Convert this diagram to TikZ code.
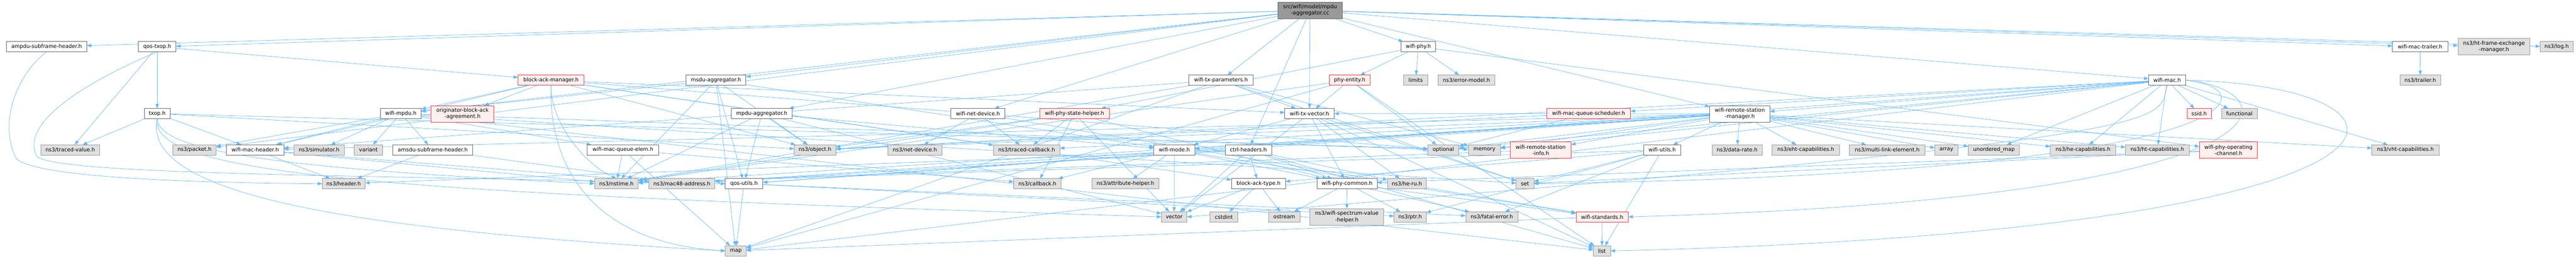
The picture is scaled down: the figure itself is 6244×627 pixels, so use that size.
\documentclass[tikz,border=0pt]{standalone}
\usepackage{fontspec}
\newfontfamily\dfont{DejaVu Sans}
\usetikzlibrary{arrows.meta,backgrounds}
\definecolor{cedge}{HTML}{63B8FF}
\definecolor{cgb}{HTML}{999999}
\definecolor{cdark}{HTML}{666666}
\definecolor{csys}{HTML}{E0E0E0}
\definecolor{credb}{HTML}{FF3333}
\definecolor{credf}{HTML}{FFF0F0}
\newcommand\edgesfrom[2]{\foreach \t in {#2}{\draw[edge] (#1) -- (\t);}}
\tikzset{
  base/.style={rectangle, inner sep=0pt, outer sep=0pt, minimum height=25pt, line width=1pt, align=center,
    font={\dfont\fontsize{12.8}{15.2}\selectfont}},
  nwhite/.style={base, draw=cdark, fill=white},
  nsys/.style={base, draw=cgb, fill=csys},
  nred/.style={base, draw=credb, fill=credf},
  ntop/.style={base, draw=cdark, fill=cgb},
  tall/.style={minimum height=40pt},
  edge/.style={draw=cedge, line width=0.9pt, -{Triangle[length=11pt,width=8pt]}},
}
\begin{document}
\begin{tikzpicture}[x=1pt,y=-1pt]
\useasboundingbox (0,0) rectangle (6244,627);
% row 0
\node[ntop,tall,minimum width=155pt] (top) at (3175.5,25) {src/wifi/model/mpdu\\-aggregator.cc};
% row 1
\node[nwhite,minimum width=195pt] (ampdu) at (113,113.5) {ampdu-subframe-header.h};
\node[nwhite,minimum width=91pt] (qostxop) at (381,113.5) {qos-txop.h};
\node[nwhite,minimum width=84pt] (wphy) at (3438,113.5) {wifi-phy.h};
\node[nwhite,minimum width=134pt] (mtrailer) at (5866,113.5) {wifi-mac-trailer.h};
\node[nsys,tall,minimum width=174pt] (htfem) at (6045,113) {ns3/ht-frame-exchange\\-manager.h};
\node[nsys,minimum width=80pt] (log) at (6197,113.5) {ns3/log.h};
% row 2
\node[nred,minimum width=159pt] (bam) at (1335.5,194.5) {block-ack-manager.h};
\node[nwhite,minimum width=145pt] (msdu) at (1735.5,194.5) {msdu-aggregator.h};
\node[nwhite,minimum width=155pt] (txparams) at (2959.5,194.5) {wifi-tx-parameters.h};
\node[nred,minimum width=99pt] (phyent) at (3271.5,194.5) {phy-entity.h};
\node[nsys,minimum width=59pt] (limits) at (3431.5,194.5) {limits};
\node[nsys,minimum width=137pt] (errmodel) at (3554.5,194.5) {ns3/error-model.h};
\node[nwhite,minimum width=90pt] (wmac) at (5253,194.5) {wifi-mac.h};
\node[nsys,minimum width=99pt] (trailer) at (5866.5,194.5) {ns3/trailer.h};
% row 3
\node[nwhite,minimum width=62pt] (txop) at (381,275.5) {txop.h};
\node[nwhite,minimum width=99pt] (mpdu) at (971.5,275.5) {wifi-mpdu.h};
\node[nred,tall,minimum width=152pt] (oba) at (1121,276) {originator-block-ack\\-agreement.h};
\node[nwhite,minimum width=147pt] (mpduagg) at (1846.5,275.5) {mpdu-aggregator.h};
\node[nwhite,minimum width=131pt] (wnetdev) at (2370.5,275.5) {wifi-net-device.h};
\node[nred,minimum width=169pt] (psh) at (2604.5,275.5) {wifi-phy-state-helper.h};
\node[nwhite,minimum width=120pt] (txvec) at (3174,275.5) {wifi-tx-vector.h};
\node[nred,minimum width=203pt] (mqs) at (3850.5,275.5) {wifi-mac-queue-scheduler.h};
\node[nwhite,tall,minimum width=146pt] (rsm) at (4217,276) {wifi-remote-station\\-manager.h};
\node[nred,minimum width=59pt] (ssid) at (5330.5,275.5) {ssid.h};
\node[nsys,minimum width=86pt] (functional) at (5428,275.5) {functional};
% row 4
\node[nsys,minimum width=142pt] (tval) at (170.4,363.5) {ns3/traced-value.h};
\node[nsys,minimum width=105pt] (packet) at (471.5,363.5) {ns3/packet.h};
\node[nwhite,minimum width=139pt] (mhdr) at (618.5,363.5) {wifi-mac-header.h};
\node[nsys,minimum width=123pt] (simulator) at (773.5,363.5) {ns3/simulator.h};
\node[nsys,minimum width=68pt] (variant) at (893,363.5) {variant};
\node[nwhite,minimum width=194pt] (amsdu) at (1049,363.5) {amsdu-subframe-header.h};
\node[nwhite,minimum width=174pt] (mqe) at (1510,363.5) {wifi-mac-queue-elem.h};
\node[nsys,minimum width=101pt] (object) at (1975.5,363.5) {ns3/object.h};
\node[nsys,minimum width=131pt] (netdev) at (2217.5,363.5) {ns3/net-device.h};
\node[nsys,minimum width=161pt] (tcb) at (2488.5,363.5) {ns3/traced-callback.h};
\node[nwhite,minimum width=99pt] (wmode) at (2846.5,363.5) {wifi-mode.h};
\node[nwhite,minimum width=112pt] (ctrl) at (3026,363.5) {ctrl-headers.h};
\node[nsys,minimum width=75pt] (optional) at (3498.5,363.5) {optional};
\node[nsys,minimum width=78pt] (memory) at (3598,363.5) {memory};
\node[nred,tall,minimum width=147pt] (rsi) at (3734.5,364) {wifi-remote-station\\-info.h};
\node[nwhite,minimum width=90pt] (utils) at (4029,363.5) {wifi-utils.h};
\node[nsys,minimum width=121pt] (drate) at (4210.5,363.5) {ns3/data-rate.h};
\node[nsys,minimum width=164pt] (eht) at (4377,363.5) {ns3/eht-capabilities.h};
\node[nsys,minimum width=183pt] (mle) at (4574.5,363.5) {ns3/multi-link-element.h};
\node[nsys,minimum width=56pt] (array) at (4718,363.5) {array};
\node[nsys,minimum width=124pt] (umap) at (4833,363.5) {unordered\_map};
\node[nsys,minimum width=158pt] (hecap) at (5049,363.5) {ns3/he-capabilities.h};
\node[nsys,minimum width=154pt] (htcap) at (5229,363.5) {ns3/ht-capabilities.h};
\node[nred,tall,minimum width=141pt] (poc) at (5401.5,364) {wifi-phy-operating\\-channel.h};
\node[nsys,minimum width=163pt] (vht) at (5830.5,363.5) {ns3/vht-capabilities.h};
% row 5
\node[nsys,minimum width=104pt] (header) at (833,445.5) {ns3/header.h};
\node[nsys,minimum width=106pt] (nstime) at (1494,445.5) {ns3/nstime.h};
\node[nsys,minimum width=160pt] (mac48) at (1653,445.5) {ns3/mac48-address.h};
\node[nwhite,minimum width=91pt] (qosutils) at (1803.5,445.5) {qos-utils.h};
\node[nsys,minimum width=115pt] (callback) at (2514.5,445.5) {ns3/callback.h};
\node[nsys,minimum width=162pt] (attr) at (2728,445.5) {ns3/attribute-helper.h};
\node[nwhite,minimum width=131pt] (batype) at (3050.5,445.5) {block-ack-type.h};
\node[nwhite,minimum width=146pt] (phycommon) at (3265,445.5) {wifi-phy-common.h};
\node[nsys,minimum width=94pt] (heru) at (3410,445.5) {ns3/he-ru.h};
\node[nsys,minimum width=43pt] (set) at (3696.5,445.5) {set};
% row 6
\node[nsys,minimum width=62pt] (vector) at (2846,526) {vector};
\node[nsys,minimum width=67pt] (cstdint) at (2966.5,526) {cstdint};
\node[nsys,minimum width=76pt] (ostream) at (3113,526) {ostream};
\node[nsys,tall,minimum width=179pt] (svh) at (3264.5,526) {ns3/wifi-spectrum-value\\-helper.h};
\node[nsys,minimum width=78pt] (ptr) at (3418,526) {ns3/ptr.h};
\node[nsys,minimum width=126pt] (fatal) at (3616,526) {ns3/fatal-error.h};
\node[nred,minimum width=127pt] (standards) at (3883.5,526) {wifi-standards.h};
% row 7
\node[nsys,minimum width=51pt] (map) at (1783.5,608.5) {map};
\node[nsys,minimum width=42pt] (list) at (3883,608.5) {list};

\begin{pgfonlayer}{background}
\edgesfrom{top}{mpduagg,ampdu,ctrl,msdu,qostxop,mtrailer,mpdu,wnetdev,wphy,rsm,txparams,txvec,wmac,htfem,log,packet}
\edgesfrom{qostxop}{bam,txop,tval}
\draw[edge] (qostxop.south) .. controls (250,180) and (40,290) .. (90,380) .. controls (150,425) and (900,425) .. (qosutils.west);
\edgesfrom{txop}{tval,mhdr,object,memory}
\draw[edge] (txop.south) .. controls (385,370) and (700,410) .. (nstime.west);
\draw[edge] (txop.south) .. controls (360,430) and (1000,470) .. (vector.west);
\draw[edge] (txop.south) .. controls (340,480) and (900,560) .. (map.west);
\draw[edge] (ampdu.south) .. controls (40,180) and (-5,300) .. (40,385) .. controls (90,430) and (450,443) .. (header.west);
\edgesfrom{bam}{oba,mpdu,mhdr,txvec,batype,object,tcb,optional}
\draw[edge] (bam.south) .. controls (1335,300) and (1420,400) .. (nstime.north);
\draw[edge] (bam.south) .. controls (1330,420) and (1450,590) .. (map.west);
\edgesfrom{msdu}{qosutils,wmode,mpdu,nstime,object,map}
\edgesfrom{mpduagg}{qosutils,wmode,nstime,object,vector}
\edgesfrom{mpdu}{amsdu,mhdr,mqe,packet,simulator,list,optional,set,variant}
\edgesfrom{mhdr}{header,mac48,nstime}
\edgesfrom{amsdu}{header,mac48}
\edgesfrom{mqe}{nstime,callback,map}
\edgesfrom{qosutils}{map,ptr,fatal}
\edgesfrom{wnetdev}{netdev,tcb,standards}
\edgesfrom{psh}{tcb,callback,nstime,object,phycommon,vector}
\edgesfrom{txparams}{txvec,mhdr,nstime,map,memory,set}
\edgesfrom{txvec}{wmode,phycommon,heru,vector,list,set}
\edgesfrom{phyent}{txvec,list,map,optional,nstime}
\edgesfrom{wphy}{phyent,psh,poc,errmodel,limits}
\edgesfrom{ctrl}{batype,phycommon,heru,header,mac48,vector,list}
\edgesfrom{wmode}{phycommon,standards,attr,callback,vector}
\edgesfrom{batype}{cstdint,ostream,vector}
\edgesfrom{phycommon}{standards,fatal,ptr,svh,ostream}
\edgesfrom{mqs}{optional,object}
\edgesfrom{rsm}{rsi,utils,drate,eht,hecap,htcap,vht,mle,array,umap,optional,memory,object,tcb,mac48,qosutils,mhdr,wmode,txvec,nstime}
\edgesfrom{rsi}{nstime}
\edgesfrom{utils}{batype,fatal,nstime,ptr,list,set}
\edgesfrom{wmac}{qosutils,ssid,functional,rsm,mqs,htcap,hecap,vht,umap,memory,optional,map,object}
\draw[edge] (wmac.east) .. controls (5950,210) and (5970,560) .. (list.east);
\draw[edge] (wmac.east) .. controls (5560,220) and (5600,480) .. (standards.east);
\draw[edge] (wmac.east) .. controls (5500,215) and (5480,420) .. (set.east);
\draw[edge] (wmac.south) .. controls (5230,300) and (5330,330) .. (vector.east);
\edgesfrom{mtrailer}{trailer}
\edgesfrom{poc}{phycommon,set}
\edgesfrom{standards}{list,map}
\end{pgfonlayer}
\end{tikzpicture}
\end{document}
